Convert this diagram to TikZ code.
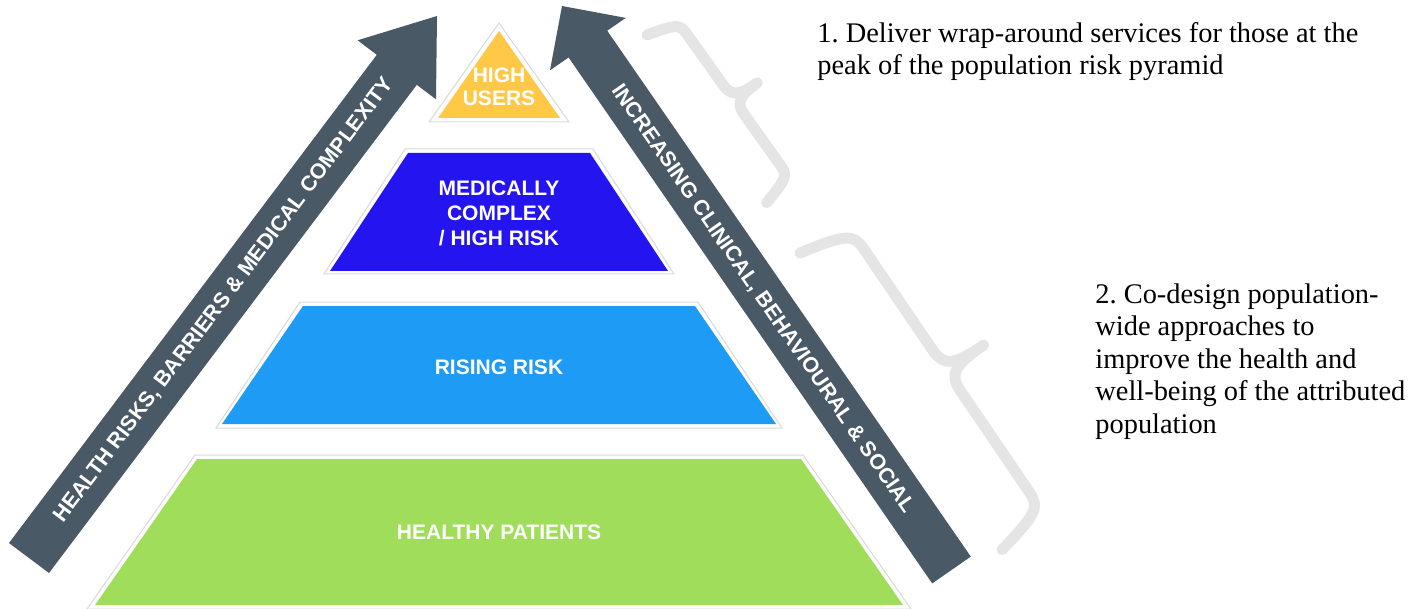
\documentclass[tikz,border=0pt]{standalone}
\usepackage{fontspec}
\setmainfont{Liberation Serif}
\newfontfamily\lsans{Liberation Sans}
\definecolor{arrowc}{RGB}{74,89,102}
\definecolor{bracec}{RGB}{229,229,229}
\definecolor{yel}{RGB}{255,200,70}
\definecolor{dblue}{RGB}{35,20,240}
\definecolor{lblue}{RGB}{30,155,245}
\definecolor{lgreen}{RGB}{160,221,90}
\tikzset{
  outline/.style={fill=white, draw=black!15, line width=0.5pt},
  lbl/.style={text=white, font=\lsans\bfseries\fontsize{10.5}{12.5}\selectfont, align=center, inner sep=0pt},
  arrowtxt/.style={text=white, font=\lsans\bfseries\fontsize{10.7}{12}\selectfont, inner sep=0pt},
  bracestyle/.style={draw=bracec, line width=5.5pt, line cap=round, line join=round},
  note/.style={font=\fontsize{14.2}{16.3}\selectfont, align=left, anchor=north west, inner sep=0pt}
}
\begin{document}
\frenchspacing
\begin{tikzpicture}[x=0.5pt,y=-0.5pt]
\useasboundingbox (0,0) rectangle (1418,609);
% pyramid levels
\draw[outline] (499,23) -- (569,122) -- (429,122) -- cycle;
\fill[yel] (499,31) -- (560,118) -- (438,118) -- cycle;
\draw[outline] (405,149) -- (593,149) -- (674,274) -- (324,274) -- cycle;
\fill[dblue] (408,153) -- (590,153) -- (668,271) -- (330,271) -- cycle;
\draw[outline] (300,302) -- (698,302) -- (782,428) -- (216,428) -- cycle;
\fill[lblue] (303,306) -- (695,306) -- (776,424) -- (222,424) -- cycle;
\draw[outline] (195,455) -- (803,455) -- (911,609) -- (87,609) -- cycle;
\fill[lgreen] (197,459) -- (801,459) -- (903,605) -- (95,605) -- cycle;
\node[lbl, font=\lsans\bfseries\fontsize{10.5}{11.5}\selectfont] (hu) at (499,87) {HIGH\\USERS};
\node[lbl] (mc) at (499,213) {MEDICALLY\\COMPLEX\\/ HIGH RISK};
\node[lbl] (rr) at (499,367) {RISING RISK};
\node[lbl] (hp) at (499,532) {HEALTHY PATIENTS};
% arrows
\fill[arrowc] (9,543) -- (376.8,54.8) -- (357.6,40.3) -- (437,16) -- (436,99.3) -- (416.8,84.8) -- (49,573) -- cycle;
\fill[arrowc] (970.8,556.6) -- (607.2,30.7) -- (625.8,17.9) -- (562,6) -- (550,70.3) -- (568.6,57.5) -- (932.2,583.4) -- cycle;
\node[arrowtxt, rotate=53] (t1) at (224,300) {HEALTH RISKS, BARRIERS \& MEDICAL COMPLEXITY};
\node[arrowtxt, rotate=-55.3] (t2) at (763,299) {INCREASING CLINICAL, BEHAVIOURAL \& SOCIAL};
% braces
\begin{scope}[shift={(647,35)}, rotate=-54.5]
\draw[bracestyle] (0,0) .. controls (8,-30) and (10,-33) .. (22,-33) -- (85,-33) .. controls (99,-33) and (103,-40) .. (103,-62) .. controls (103,-40) and (107,-33) .. (121,-33) -- (184,-33) .. controls (196,-33) and (198,-30) .. (206,0);
\end{scope}
\begin{scope}[shift={(800,253)}, rotate=-55.75]
\draw[bracestyle] (0,0) .. controls (10,-48) and (14,-55) .. (32,-55) -- (155,-55) .. controls (175,-55) and (179.5,-65) .. (179.5,-100) .. controls (179.5,-65) and (184,-55) .. (204,-55) -- (327,-55) .. controls (345,-55) and (349,-48) .. (359,0);
\end{scope}
% notes
\node[note] (n1) at (817,22) {1. Deliver wrap-around services for those at the\\peak of the population risk pyramid};
\node[note] (n2) at (1095,283) {2. Co-design population-\\wide approaches to\\improve the health and\\well-being of the attributed\\population};
\end{tikzpicture}
\end{document}
